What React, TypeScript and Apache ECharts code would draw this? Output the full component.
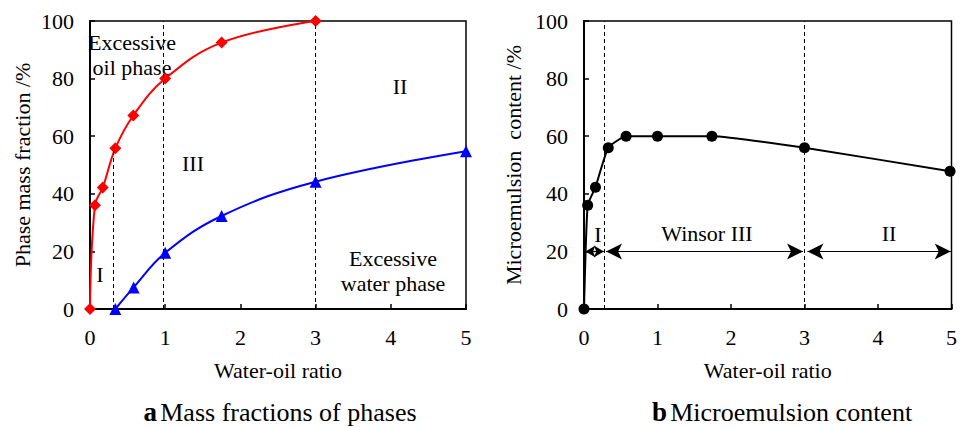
import React, { useEffect, useRef } from "react";
import * as echarts from "echarts";

const FONT = "Liberation Serif";

// Panel a: mass fractions of phases
const oilRatio = [0, 0.066, 0.17, 0.337, 0.576, 1.0, 1.75, 3.0];
const oilFraction = [0, 36, 42.2, 55.8, 67.2, 80, 92.5, 100];
const waterRatio = [0.337, 0.58, 1.0, 1.75, 3.0, 5.0];
const waterFraction = [0, 7.5, 19.5, 32.3, 44.2, 54.8];

// Panel b: microemulsion content
const microRatio = [0, 0.05, 0.156, 0.33, 0.573, 1.0, 1.74, 3.0, 4.98];
const microContent = [0, 36, 42.3, 56, 60, 60, 60, 56, 47.8];

const xTicks = [0, 1, 2, 3, 4, 5];
const yTicks = [0, 20, 40, 60, 80, 100];

const zip = (xs: number[], ys: number[]) => xs.map((x, i) => [x, ys[i]]);

export default function App() {
  const ref = useRef<HTMLDivElement>(null);
  useEffect(() => {
    document.body.style.margin = "0";
    if (!ref.current) return;
    const chart = echarts.init(ref.current, undefined, { renderer: "svg" });
    const txt = { color: "#000", fontFamily: FONT, fontSize: 22 };
    const mkX = (gi: number) => ({
      type: "value",
      gridIndex: gi,
      min: xTicks[0],
      max: xTicks[xTicks.length - 1],
      interval: 1,
      name: "Water-oil ratio",
      nameLocation: "middle",
      nameGap: 50,
      nameTextStyle: { ...txt },
      axisLine: { show: true, lineStyle: { color: "#000", width: 2 } },
      axisTick: { show: true, inside: true, length: 5, lineStyle: { color: "#000", width: 1.5 } },
      axisLabel: { ...txt, margin: 17 },
      splitLine: { show: false },
    });
    const mkY = (gi: number, name: string, gap: number) => ({
      type: "value",
      gridIndex: gi,
      min: yTicks[0],
      max: yTicks[yTicks.length - 1],
      interval: 20,
      name,
      nameLocation: "middle",
      nameGap: gap,
      nameTextStyle: { ...txt },
      axisLine: { show: true, lineStyle: { color: "#000", width: 2 } },
      axisTick: { show: true, inside: true, length: 5, lineStyle: { color: "#000", width: 1.5 } },
      axisLabel: { ...txt, margin: 16 },
      splitLine: { show: false },
    });
    const dashed = { color: "#000", width: 1, type: [4, 3] as any };
    const vline = (x: number, y0: number, y1: number) => [
      { coord: [x, y0], symbol: "none", lineStyle: dashed },
      { coord: [x, y1], symbol: "none" },
    ];
    const arrow = (x0: number, x1: number, y: number, size: number[]) => [
      { coord: [x0, y], symbol: "arrow", symbolSize: size, lineStyle: { color: "#000", width: 1.2, type: "solid" } },
      { coord: [x1, y], symbol: "arrow", symbolSize: size },
    ];
    const ann = (x: number, y: number, text: string) => ({
      type: "text",
      x,
      y,
      style: { text, fill: "#000", font: `22px '${FONT}'`, textAlign: "center", textVerticalAlign: "middle" },
    });
    const titleRich = {
      b: { fontFamily: FONT, fontSize: 27, fontWeight: "bold", fill: "#000" },
      n: { fontFamily: FONT, fontSize: 26, fill: "#000" },
    };
    chart.setOption({
      animation: false,
      grid: [
        { left: 90, top: 21, width: 376, height: 288, show: true, borderColor: "#000", borderWidth: 1.5 },
        { left: 584, top: 21, width: 374, height: 288, show: true, borderColor: "#000", borderWidth: 1.5 },
      ],
      xAxis: [mkX(0), mkX(1)],
      yAxis: [mkY(0, "Phase mass fraction /%", 57), mkY(1, "Microemulsion  content /%", 60)],
      series: [
        {
          type: "line",
          xAxisIndex: 0,
          yAxisIndex: 0,
          data: zip(oilRatio, oilFraction),
          smooth: 0.4,
          symbol: "diamond",
          symbolSize: 12,
          clip: false,
          itemStyle: { color: "#ff0000" },
          lineStyle: { color: "#ff0000", width: 2 },
          markLine: {
            silent: true,
            animation: false,
            label: { show: false },
            symbol: "none",
            data: [vline(0.31, 0, 56), vline(0.98, 0, 100), vline(3, 0, 100)],
          },
          z: 3,
        },
        {
          type: "line",
          xAxisIndex: 0,
          yAxisIndex: 0,
          data: zip(waterRatio, waterFraction),
          smooth: 0.4,
          symbol: "triangle",
          symbolSize: 12,
          clip: false,
          itemStyle: { color: "#0000ff" },
          lineStyle: { color: "#0000ff", width: 2 },
          z: 3,
        },
        {
          type: "line",
          xAxisIndex: 1,
          yAxisIndex: 1,
          data: zip(microRatio, microContent),
          smooth: 0.15,
          symbol: "circle",
          symbolSize: 11,
          clip: false,
          itemStyle: { color: "#000" },
          lineStyle: { color: "#000", width: 2 },
          markLine: {
            silent: true,
            animation: false,
            label: { show: false },
            data: [
              vline(0.27, 0, 100),
              vline(3, 0, 100),
              arrow(0.02, 0.27, 20, [9, 10]),
              arrow(0.3, 2.98, 20, [12, 16]),
              arrow(3.04, 4.99, 20, [12, 16]),
            ],
          },
          z: 3,
        },
      ],
      graphic: [
        ann(132, 42, "Excessive"),
        ann(132, 67, "oil phase"),
        ann(400, 86, "II"),
        ann(193, 163, "III"),
        ann(100, 274, "I"),
        ann(393, 258, "Excessive"),
        ann(393, 283, "water phase"),
        ann(598, 234, "I"),
        ann(707, 233, "Winsor III"),
        ann(889, 233, "II"),
        {
          type: "text",
          x: 280,
          y: 412,
          style: {
            text: "{b|a} {n|Mass fractions of phases}",
            textAlign: "center",
            textVerticalAlign: "middle",
            rich: titleRich,
          },
        },
        {
          type: "text",
          x: 782,
          y: 412,
          style: {
            text: "{b|b} {n|Microemulsion content}",
            textAlign: "center",
            textVerticalAlign: "middle",
            rich: titleRich,
          },
        },
      ],
    });
    return () => chart.dispose();
  }, []);
  return <div ref={ref} style={{ width: 960, height: 427 }} />;
}
